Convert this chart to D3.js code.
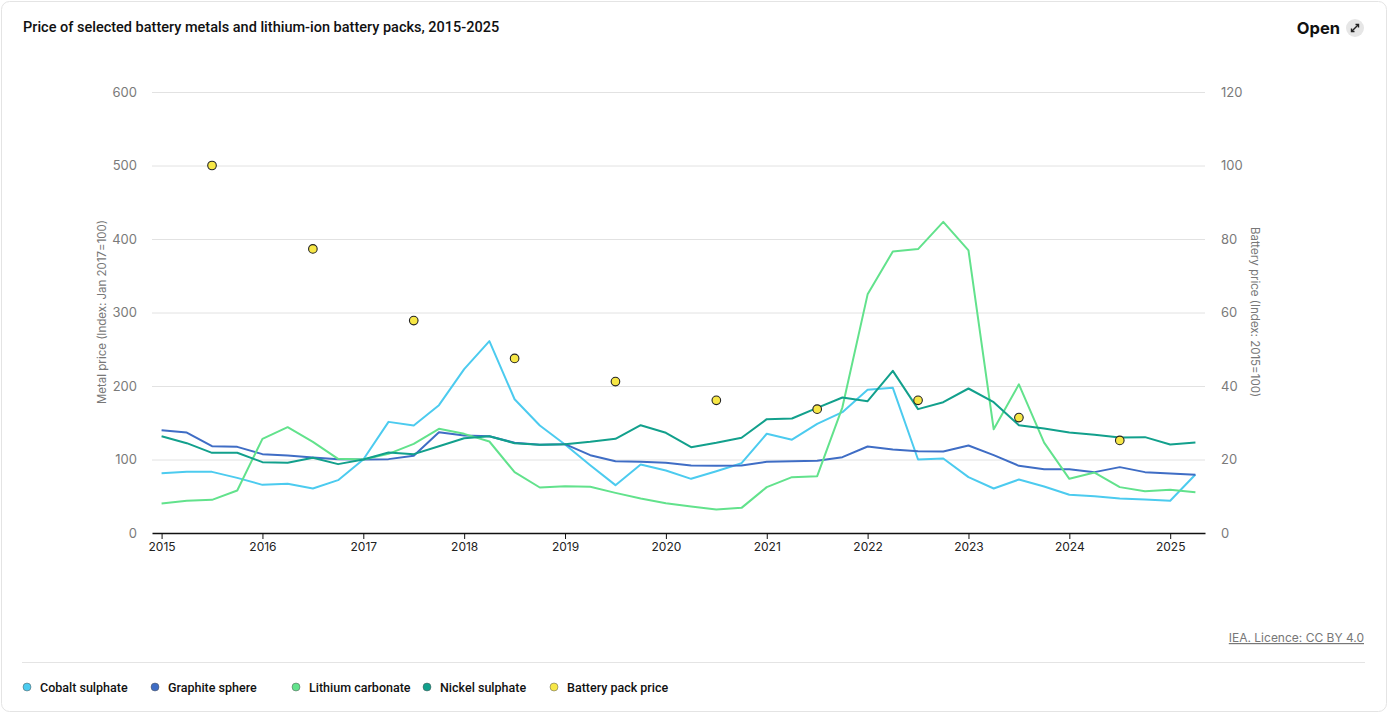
<!DOCTYPE html>
<html><head><meta charset="utf-8">
<script src="https://cdn.jsdelivr.net/npm/d3@7"></script>
<style>
body{margin:0;background:#fff;font-family:Inter,"Noto Sans",sans-serif;}
svg{display:block}
</style></head>
<body><svg id="c" width="1389" height="714"></svg>
<script>
// Quarterly dates 2015 Q1 .. 2025 Q2 (fractional years)
const quarters = d3.range(42).map(i => 2015 + i * 0.25);
const cobalt = [81.4,83.2,83.2,75,65.5,66.9,60.5,71.9,100,151.2,146.3,173.9,222.9,261,182,146.3,120.4,92.3,65.1,93.2,
  85,73.7,84,95,135,127,148.5,164.4,194.8,197.5,100,101.4,76,60.5,72.8,63.3,52,50,47,45.6,43.8,79.6];
const graphite = [139.9,136.7,118.1,117.2,107.3,105.4,102.7,100.5,100,100.5,105,137.2,132.7,131.7,122.7,120,120.9,105.9,97.7,96.8,
  95.5,91.8,91.4,91.8,96.8,97.7,98.2,103.2,117.7,113.6,111.3,110.9,119,105.9,91.4,86.8,86.8,82.8,89.6,82.8,81,79.1];
const lithium = [40.1,43.8,45.1,57.8,128.1,144,124,100.9,100,107.7,121.3,141.7,134.9,124.5,82.8,61.9,63.7,62.8,54.6,46.9,
  40.6,36,32,34.2,62.4,76,77.3,171,324.7,383,386.3,423.3,384.5,141.1,202.3,123,73.7,82.3,62.4,56.9,58.7,55.6];
const nickel = [131.7,122.2,109.1,109.1,96.4,95.5,102.3,93.7,100,109.5,107.3,118.1,129,131.7,122.2,120,120.9,124,128.1,146.7,
  136.3,116.8,122.7,129.5,154.9,155.8,170.3,184.4,179.4,220.6,168.5,178,196.6,178,146.7,142.2,136.7,133.6,129.9,130.4,120.4,123.1];
const batteryYears = [2015.5,2016.5,2017.5,2018.5,2019.5,2020.5,2021.5,2022.5,2023.5,2024.5];
const battery = [100,77.3,57.8,47.5,41.2,36.1,33.7,36.1,31.4,25.2];
const xTicks = d3.range(2015, 2026);
const leftTicks = [0,100,200,300,400,500,600];
const rightTicks = [0,20,40,60,80,100,120];

const series = [
  {name:"Cobalt sulphate", values:cobalt, color:"#4ccbef"},
  {name:"Graphite sphere", values:graphite, color:"#3f6dc5"},
  {name:"Lithium carbonate", values:lithium, color:"#62e28c"},
  {name:"Nickel sulphate", values:nickel, color:"#12a08c"}
];
const batteryColor = "#f7e746";
const titleFont = "Roboto,'Noto Sans',sans-serif";

const svg = d3.select("#c");
// card
svg.append("rect").attr("x",1.5).attr("y",1.5).attr("width",1385).attr("height",710).attr("rx",8)
  .attr("fill","#fff").attr("stroke","#e4e4e4");

svg.append("text").attr("x",23).attr("y",32).attr("font-family",titleFont).attr("font-size",14.5).attr("font-weight",500)
  .attr("fill","#111").text("Price of selected battery metals and lithium-ion battery packs, 2015-2025");
svg.append("text").attr("x",1340).attr("y",34).attr("text-anchor","end").attr("font-size",16.5).attr("font-weight",700)
  .attr("fill","#111").text("Open");
svg.append("circle").attr("cx",1355).attr("cy",28).attr("r",9).attr("fill","#e6e6e6");
const ic = svg.append("g").attr("stroke","#222").attr("stroke-width",1.4).attr("fill","none");
ic.append("line").attr("x1",1351.5).attr("y1",31.5).attr("x2",1358.5).attr("y2",24.5);
ic.append("path").attr("d","M1355.5,24.5 L1358.5,24.5 L1358.5,27.5");
ic.append("path").attr("d","M1351.5,28.5 L1351.5,31.5 L1354.5,31.5");

const x = d3.scaleLinear().domain([2014.905, 2025.345]).range([152, 1205]);
const yL = d3.scaleLinear().domain([0,600]).range([533, 92]);
const yR = d3.scaleLinear().domain([0,120]).range([533, 92]);

// gridlines
svg.append("g").selectAll("line").data(leftTicks.slice(1)).join("line")
  .attr("x1",152).attr("x2",1205).attr("y1",d=>yL(d)+0.5).attr("y2",d=>yL(d)+0.5)
  .attr("stroke","#e2e2e2");

// left axis
const gL = svg.append("g").attr("transform","translate(152,0)")
  .call(d3.axisLeft(yL).tickValues(leftTicks).tickSize(0).tickPadding(15));
gL.select(".domain").remove();
gL.selectAll("text").attr("font-family","Inter,sans-serif").attr("font-size",13).attr("fill","#7a7a7a");
// right axis
const gR = svg.append("g").attr("transform","translate(1205,0)")
  .call(d3.axisRight(yR).tickValues(rightTicks).tickSize(0).tickPadding(16));
gR.select(".domain").remove();
gR.selectAll("text").attr("font-family","Inter,sans-serif").attr("font-size",13).attr("fill","#7a7a7a")
  .attr("text-anchor","start");

// x axis
const gX = svg.append("g").attr("transform","translate(0,533)")
  .call(d3.axisBottom(x).tickValues(xTicks).tickFormat(d3.format("d")).tickSize(6).tickPadding(3).tickSizeOuter(0));
gX.select(".domain").attr("stroke","#111").attr("stroke-width",1.5);
gX.selectAll(".tick line").attr("stroke","#111");
gX.selectAll("text").attr("font-family","Inter,sans-serif").attr("font-size",12).attr("fill","#222");

// axis titles
svg.append("text").attr("transform","translate(106,312) rotate(-90)").attr("text-anchor","middle")
  .attr("font-size",11.5).attr("fill","#777").text("Metal price (Index: Jan 2017=100)");
svg.append("text").attr("transform","translate(1251,312) rotate(90)").attr("text-anchor","middle")
  .attr("font-size",11.5).attr("fill","#777").text("Battery price (Index: 2015=100)");

// lines
const line = d3.line().x((d,i)=>x(quarters[i])).y(d=>yL(d));
svg.append("g").selectAll("path").data(series).join("path")
  .attr("d",d=>line(d.values)).attr("fill","none").attr("stroke",d=>d.color)
  .attr("stroke-width",2).attr("stroke-linejoin","round");

// battery dots
svg.append("g").selectAll("circle").data(battery).join("circle")
  .attr("cx",(d,i)=>x(batteryYears[i])).attr("cy",d=>yR(d)).attr("r",4.3)
  .attr("fill",batteryColor).attr("stroke","#222").attr("stroke-width",1.1);

// source
svg.append("text").attr("x",1364).attr("y",642).attr("text-anchor","end").attr("font-size",12)
  .attr("fill","#777").attr("text-decoration","underline").text("IEA. Licence: CC BY 4.0");

// legend
svg.append("line").attr("x1",22).attr("x2",1365).attr("y1",662.5).attr("y2",662.5).attr("stroke","#e4e4e4");
const legendItems = series.map(s=>({name:s.name,color:s.color})).concat([{name:"Battery pack price",color:batteryColor}]);
const legendX = [27,155,296,427,554];
const lg = svg.append("g").selectAll("g").data(legendItems).join("g")
  .attr("transform",(d,i)=>`translate(${legendX[i]},687)`);
lg.append("circle").attr("r",4).attr("fill",d=>d.color).attr("stroke","#555").attr("stroke-width",0.5);
lg.append("text").attr("x",13).attr("y",4.5).attr("font-family",titleFont).attr("font-size",12.5).attr("font-weight",500)
  .attr("fill","#111").text(d=>d.name);
</script></body></html>
